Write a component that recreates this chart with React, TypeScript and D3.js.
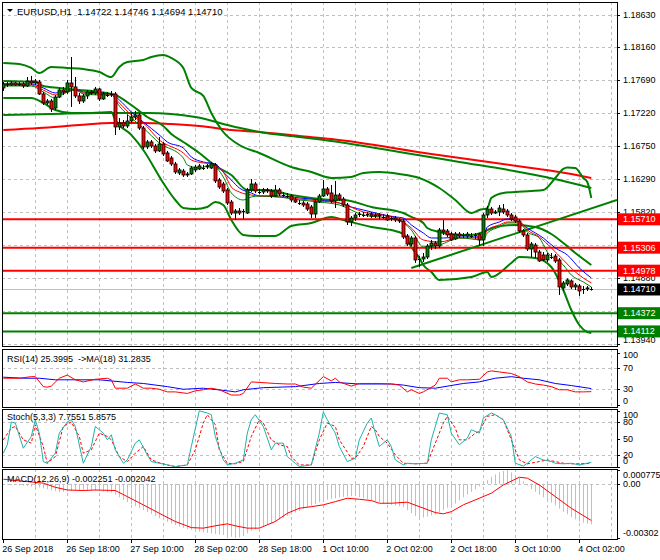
import * as d3 from 'd3'

// ---------- price bars (EURUSD H1, 26 Sep 02:00 .. 4 Oct 05:00) ----------
const barOpen = [
  1.17583, 1.1764, 1.17625, 1.17654, 1.17625, 1.1764, 1.17611, 1.17682, 1.17654, 1.17668,
  1.17497, 1.17369, 1.17397, 1.17297, 1.17454, 1.17554, 1.17526, 1.17654, 1.17597, 1.17469,
  1.17397, 1.17469, 1.17526, 1.17511, 1.17568, 1.17426, 1.17497, 1.17483, 1.17497, 1.17027,
  1.17084, 1.17041, 1.17112, 1.17169, 1.17198, 1.17012, 1.16742, 1.16813, 1.16756, 1.16685,
  1.16784, 1.16656, 1.16585, 1.16499, 1.16371, 1.16399, 1.16342, 1.16357, 1.16414, 1.16428,
  1.16456, 1.16456, 1.16442, 1.16485, 1.16271, 1.16214, 1.16129, 1.15957, 1.158, 1.15829,
  1.15815, 1.158, 1.16129, 1.16214, 1.16114, 1.161, 1.16129, 1.16114, 1.16043, 1.16129,
  1.16071, 1.16057, 1.16043, 1.15986, 1.15957, 1.15943, 1.15929, 1.15886, 1.15786, 1.15957,
  1.16043, 1.16143, 1.16086, 1.15972, 1.16057, 1.16, 1.15914, 1.15672, 1.15729, 1.15772,
  1.15786, 1.15772, 1.15786, 1.15757, 1.15772, 1.15757, 1.15757, 1.15715, 1.15729, 1.15701,
  1.15686, 1.15473, 1.15358, 1.15444, 1.15131, 1.15145, 1.15173, 1.1533, 1.15373, 1.1533,
  1.15558, 1.15544, 1.15501, 1.1543, 1.15501, 1.15473, 1.15473, 1.15487, 1.15473, 1.15501,
  1.15416, 1.15772, 1.15857, 1.158, 1.15815, 1.15857, 1.15829, 1.15772, 1.15743, 1.15686,
  1.15544, 1.15487, 1.15287, 1.15344, 1.15244, 1.15202, 1.15131, 1.15187, 1.15187, 1.15131,
  1.14732, 1.14788, 1.14831, 1.14746, 1.1476, 1.14703, 1.14717, 1.14722,
]
const barHigh = [
  1.17668, 1.17668, 1.17682, 1.17668, 1.17668, 1.17668, 1.17739, 1.17754, 1.17711, 1.17697,
  1.17526, 1.17426, 1.17426, 1.17483, 1.17583, 1.17597, 1.17697, 1.18024, 1.17739, 1.17511,
  1.17497, 1.17554, 1.17554, 1.17597, 1.17583, 1.17526, 1.17526, 1.1754, 1.17526, 1.17155,
  1.17126, 1.17198, 1.17226, 1.17255, 1.17226, 1.17041, 1.16841, 1.16841, 1.16784, 1.16884,
  1.16813, 1.16685, 1.16613, 1.16528, 1.16442, 1.16428, 1.16385, 1.16471, 1.16485, 1.16499,
  1.16485, 1.16499, 1.16528, 1.16513, 1.163, 1.16243, 1.16157, 1.15986, 1.15857, 1.15871,
  1.15857, 1.16157, 1.16285, 1.16243, 1.16143, 1.16157, 1.16157, 1.16143, 1.162, 1.16157,
  1.161, 1.16086, 1.16071, 1.16014, 1.15986, 1.15972, 1.15957, 1.15914, 1.15986, 1.16071,
  1.16271, 1.16171, 1.162, 1.16257, 1.16086, 1.16029, 1.15943, 1.15757, 1.158, 1.15815,
  1.15815, 1.15815, 1.15815, 1.158, 1.158, 1.15786, 1.15786, 1.15757, 1.15757, 1.15729,
  1.15715, 1.15501, 1.15473, 1.15473, 1.15187, 1.1523, 1.15358, 1.15416, 1.15401, 1.15587,
  1.15701, 1.15572, 1.1553, 1.1553, 1.1553, 1.15515, 1.1553, 1.15515, 1.15515, 1.15515,
  1.158, 1.159, 1.15886, 1.15843, 1.15914, 1.15929, 1.15857, 1.158, 1.15772, 1.15715,
  1.15572, 1.15515, 1.15387, 1.15373, 1.15273, 1.15244, 1.1523, 1.1523, 1.15216, 1.15159,
  1.14831, 1.14868, 1.14854, 1.14803, 1.14788, 1.1476, 1.1476, 1.14746,
]
const barLow = [
  1.1754, 1.17597, 1.17611, 1.17611, 1.17611, 1.17583, 1.17597, 1.17625, 1.17625, 1.17483,
  1.1734, 1.1734, 1.1724, 1.17269, 1.1744, 1.17483, 1.17497, 1.17312, 1.1744, 1.17354,
  1.17369, 1.17426, 1.17483, 1.17483, 1.17397, 1.17412, 1.17454, 1.17454, 1.16913, 1.16984,
  1.17012, 1.17012, 1.17084, 1.17126, 1.16984, 1.16713, 1.16713, 1.16727, 1.16656, 1.1667,
  1.16613, 1.16528, 1.16471, 1.16357, 1.16342, 1.16314, 1.16314, 1.16342, 1.16385, 1.16414,
  1.16414, 1.16428, 1.16428, 1.16228, 1.16143, 1.16086, 1.15914, 1.15772, 1.15701, 1.15772,
  1.15715, 1.15786, 1.161, 1.16086, 1.16071, 1.16071, 1.16086, 1.16014, 1.16029, 1.16043,
  1.16029, 1.16014, 1.15957, 1.15943, 1.15914, 1.15886, 1.15829, 1.15729, 1.15729, 1.15943,
  1.16029, 1.16043, 1.15943, 1.15871, 1.15972, 1.15886, 1.15629, 1.15615, 1.15686, 1.15743,
  1.15743, 1.15743, 1.15729, 1.15729, 1.15715, 1.15715, 1.15686, 1.15686, 1.15672, 1.15658,
  1.1543, 1.1533, 1.1533, 1.15088, 1.15031, 1.15102, 1.15145, 1.15273, 1.15287, 1.15301,
  1.15487, 1.15458, 1.15401, 1.15416, 1.15444, 1.15444, 1.15444, 1.15444, 1.1543, 1.1533,
  1.1533, 1.15729, 1.15772, 1.15786, 1.15757, 1.15786, 1.15743, 1.15686, 1.15658, 1.15515,
  1.15458, 1.15259, 1.15173, 1.15159, 1.15102, 1.15116, 1.15102, 1.15145, 1.15088, 1.14632,
  1.14689, 1.1476, 1.14717, 1.14703, 1.14618, 1.14646, 1.14689, 1.14694,
]
const barClose = [
  1.1764, 1.17625, 1.17654, 1.17625, 1.1764, 1.17611, 1.17682, 1.17654, 1.17682, 1.17497,
  1.17369, 1.17397, 1.17283, 1.17454, 1.17554, 1.17526, 1.17654, 1.17597, 1.17469, 1.17397,
  1.17469, 1.17526, 1.17511, 1.17568, 1.17426, 1.17497, 1.17483, 1.17497, 1.17027, 1.17084,
  1.17041, 1.17112, 1.17169, 1.17198, 1.17012, 1.16742, 1.16813, 1.16756, 1.16685, 1.16784,
  1.16642, 1.16542, 1.16499, 1.16385, 1.16414, 1.16342, 1.16357, 1.16442, 1.16456, 1.16471,
  1.16442, 1.16471, 1.16499, 1.16257, 1.16171, 1.16114, 1.15943, 1.158, 1.15829, 1.158,
  1.15829, 1.16129, 1.16214, 1.16114, 1.161, 1.16129, 1.16114, 1.16043, 1.16129, 1.16071,
  1.16057, 1.16043, 1.15986, 1.15957, 1.15943, 1.15914, 1.15857, 1.15786, 1.15957, 1.16043,
  1.16143, 1.16071, 1.15972, 1.16057, 1.16, 1.15914, 1.15672, 1.15729, 1.15772, 1.15786,
  1.15772, 1.15786, 1.15757, 1.15772, 1.15757, 1.15743, 1.15701, 1.15729, 1.15701, 1.15686,
  1.15458, 1.15358, 1.15444, 1.15131, 1.15145, 1.15173, 1.1533, 1.15373, 1.1533, 1.15558,
  1.1553, 1.15487, 1.15416, 1.15501, 1.15473, 1.15487, 1.15501, 1.15473, 1.15487, 1.15416,
  1.15772, 1.15857, 1.158, 1.15815, 1.15871, 1.15815, 1.15772, 1.15715, 1.15686, 1.15544,
  1.15487, 1.15287, 1.15358, 1.15244, 1.15116, 1.15131, 1.15202, 1.15173, 1.15116, 1.14746,
  1.14803, 1.14846, 1.14746, 1.14774, 1.14689, 1.14717, 1.14732, 1.1471,
]

// ---------- main-window overlays: [bar, price] ----------
const bbUpper = [
  [0, 1.17939], [4, 1.17925], [7, 1.17868], [9, 1.17796], [12, 1.17882], [16, 1.17868], [20, 1.17853],
  [24, 1.17811], [27, 1.17739], [29, 1.17882], [31, 1.17953], [35, 1.17982], [37, 1.18024], [40, 1.18053],
  [42, 1.1801], [45, 1.17868], [47, 1.17583], [50, 1.17469], [52, 1.17226], [55, 1.16955], [59, 1.1677],
  [64, 1.16656], [72, 1.16456], [77, 1.16385], [82, 1.163], [87, 1.16314], [90, 1.16371], [94, 1.16385],
  [99, 1.16357], [104, 1.163], [109, 1.16157], [113, 1.15986], [117, 1.158], [119, 1.15843], [121, 1.15871],
  [122, 1.16014], [125, 1.16086], [128, 1.161], [132, 1.16114], [135, 1.16129], [138, 1.163], [140, 1.16428],
  [141, 1.1645], [143, 1.16442], [145, 1.163], [146, 1.16243], [147, 1.16014],
]
const bbMiddle = [
  [0, 1.17682], [8, 1.17668], [10, 1.17611], [14, 1.17583], [19, 1.17554], [24, 1.17526], [28, 1.17483],
  [32, 1.1734], [36, 1.17169], [40, 1.17041], [42, 1.16927], [45, 1.16813], [49, 1.16656], [53, 1.16471],
  [57, 1.16342], [61, 1.16129], [66, 1.16129], [72, 1.16057], [77, 1.16015], [82, 1.15986], [85, 1.15986],
  [92, 1.15886], [100, 1.15801], [102, 1.15744], [105, 1.15658], [106, 1.15587], [109, 1.1553], [114, 1.15487],
  [117, 1.15487], [120, 1.1553], [123, 1.15601], [128, 1.1563], [133, 1.15601], [137, 1.15501], [140, 1.15373],
  [143, 1.15231], [147, 1.15059],
]
const bbLower = [
  [0, 1.1744], [7, 1.1744], [10, 1.17369], [13, 1.17269], [17, 1.17226], [22, 1.17226], [27, 1.1724],
  [28, 1.17126], [32, 1.16913], [35, 1.16699], [40, 1.16228], [43, 1.15986], [45, 1.15872], [48, 1.15858],
  [51, 1.15886], [53, 1.15957], [55, 1.15915], [57, 1.15701], [60, 1.15487], [63, 1.15473], [68, 1.15473],
  [72, 1.15615], [77, 1.15658], [82, 1.15744], [85, 1.15701], [92, 1.15601], [97, 1.15558], [100, 1.15501],
  [102, 1.15316], [104, 1.15159], [105, 1.15059], [107, 1.1496], [109, 1.14846], [117, 1.14888], [121, 1.1496],
  [122, 1.14888], [127, 1.15088], [129, 1.15174], [133, 1.15159], [137, 1.15031], [140, 1.14703], [142, 1.14418],
  [144, 1.14204], [146, 1.14104], [147, 1.1409],
]
const slowGreenMa = [
  [0, 1.17198], [12, 1.17212], [24, 1.17226], [36, 1.17226], [48, 1.17169], [58, 1.17027], [64, 1.16955],
  [74, 1.16884], [82, 1.16827], [99, 1.1667], [114, 1.16528], [129, 1.16385], [139, 1.16271], [147, 1.16157],
]
const slowRedMa = [
  [0, 1.16984], [9, 1.17012], [19, 1.17055], [27, 1.17084], [35, 1.17084], [42, 1.17069], [49, 1.17041],
  [57, 1.16984], [64, 1.16955], [74, 1.16898], [82, 1.16856], [107, 1.16642], [132, 1.16442], [139, 1.16385],
  [147, 1.163],
]
const fastBlueMa = [
  [0, 1.1764], [7, 1.1764], [10, 1.17583], [13, 1.17511], [15, 1.17526], [18, 1.17554], [20, 1.17526],
  [24, 1.17511], [27, 1.17497], [29, 1.17412], [32, 1.1724], [35, 1.17098], [39, 1.16913], [41, 1.16813],
  [45, 1.16727], [47, 1.16599], [50, 1.16528], [53, 1.16499], [55, 1.16385], [57, 1.16271], [59, 1.16157],
  [62, 1.16086], [64, 1.16043], [69, 1.16043], [74, 1.16015], [79, 1.15986], [84, 1.15943], [87, 1.15886],
  [90, 1.15843], [98, 1.15744], [100, 1.15729], [102, 1.1563], [105, 1.15516], [107, 1.15444], [110, 1.15444],
  [115, 1.15459], [120, 1.15459], [121, 1.15601], [124, 1.15672], [126, 1.15715], [129, 1.15672], [131, 1.15587],
  [135, 1.15444], [138, 1.15302], [141, 1.15202], [144, 1.15017], [147, 1.14874],
]
const fastRedMa = [
  [0, 1.17625], [7, 1.17625], [10, 1.17554], [13, 1.17483], [15, 1.17511], [18, 1.17554], [20, 1.17511],
  [24, 1.17497], [27, 1.17483], [29, 1.17369], [32, 1.17198], [35, 1.17084], [39, 1.16841], [45, 1.16656],
  [47, 1.16556], [50, 1.16514], [52, 1.16499], [55, 1.16385], [57, 1.16171], [59, 1.161], [62, 1.16057],
  [64, 1.16043], [69, 1.16029], [74, 1.16], [79, 1.15972], [84, 1.15943], [90, 1.15815], [98, 1.15729],
  [102, 1.15587], [105, 1.15416], [109, 1.15387], [114, 1.15444], [120, 1.15444], [121, 1.15558], [124, 1.1563],
  [126, 1.15672], [129, 1.15672], [131, 1.15558], [134, 1.15459], [137, 1.15302], [140, 1.15131], [143, 1.1496],
  [147, 1.14803],
]
const fastGreenMa = [
  [0, 1.17611], [7, 1.17611], [10, 1.17526], [13, 1.1744], [15, 1.17497], [18, 1.17554], [20, 1.17497],
  [24, 1.17483], [27, 1.17483], [29, 1.17326], [32, 1.17155], [35, 1.17012], [39, 1.16799], [45, 1.16585],
  [46, 1.16485], [49, 1.16442], [52, 1.16485], [55, 1.16314], [57, 1.16086], [60, 1.15986], [62, 1.16029],
  [64, 1.16043], [69, 1.16029], [74, 1.15986], [79, 1.15957], [84, 1.15915], [90, 1.15772], [98, 1.15715],
  [102, 1.15558], [105, 1.15316], [109, 1.15344], [114, 1.15444], [120, 1.15416], [121, 1.15516], [124, 1.15601],
  [126, 1.15658], [129, 1.15658], [131, 1.1553], [134, 1.15444], [136, 1.15245], [140, 1.15059], [142, 1.14917],
  [145, 1.14817], [147, 1.14746],
]
const trendAnchors = [[102, 1.15017], [150, 1.15922]]

const priceTicks = [1.1863, 1.1816, 1.1769, 1.1722, 1.1675, 1.1629, 1.1582, 1.1535, 1.1488, 1.1441, 1.1394]
// tick labels fully covered by a level box in the original are not printed
const hiddenTicks = [1.1535, 1.1441]
const redLevels = [1.1571, 1.15306, 1.14978]
const greenLevels = [1.14372, 1.14112]
const lastPrice = 1.1471

const timeLabels = ['26 Sep 2018', '26 Sep 18:00', '27 Sep 10:00', '28 Sep 02:00', '28 Sep 18:00',
  '1 Oct 10:00', '2 Oct 02:00', '2 Oct 18:00', '3 Oct 10:00', '4 Oct 02:00']
const timeLabelBars = [0, 16, 32, 48, 64, 80, 96, 112, 128, 144]

// ---------- RSI(14) and its MA(18) ----------
const rsiLine = [
  [0, 51], [4, 51], [7, 54], [8, 54], [10, 35], [11, 34], [12, 36], [14, 51], [16, 57], [18, 48], [20, 44],
  [23, 49], [26, 51], [27, 48], [28, 32], [31, 32], [33, 40], [35, 32], [37, 32], [39, 30], [41, 25], [43, 25],
  [46, 22], [48, 27], [50, 29], [52, 32], [54, 29], [57, 19], [59, 19], [60, 22], [62, 44], [64, 43], [68, 41],
  [71, 40], [73, 40], [75, 34], [77, 32], [80, 54], [82, 46], [83, 51], [84, 44], [87, 36], [89, 41], [92, 41],
  [94, 41], [97, 40], [99, 38], [101, 25], [102, 29], [104, 22], [105, 25], [108, 38], [109, 51], [111, 51],
  [112, 44], [114, 48], [116, 48], [119, 49], [121, 63], [122, 65], [124, 63], [127, 60], [129, 54], [131, 44],
  [133, 40], [135, 38], [137, 35], [139, 29], [141, 29], [143, 25], [145, 25], [147, 25.4],
]
const rsiMa = [
  [0, 53], [5, 51], [9, 51], [13, 48], [24, 48], [31, 43], [35, 41], [41, 35], [45, 30], [50, 32], [56, 27],
  [58, 25], [60, 29], [65, 33], [73, 35], [79, 41], [83, 43], [89, 40], [97, 40], [100, 38], [104, 33],
  [108, 32], [115, 41], [119, 44], [123, 51], [127, 54], [130, 51], [134, 48], [138, 41], [142, 37], [147, 31.3],
]

// ---------- Stochastic(5,3,3) ----------
const stochMain = [
  [0, 24], [1, 39], [2, 80], [3, 78], [5, 33], [7, 54], [8, 84], [9, 60], [10, 9], [11, 6], [13, 24], [14, 60],
  [16, 80], [17, 84], [18, 72], [20, 6], [22, 36], [23, 72], [25, 60], [26, 48], [27, 57], [28, 30], [30, 6],
  [31, 12], [33, 42], [34, 48], [36, 21], [37, 9], [39, 6], [41, 3], [43, 0], [46, 3], [47, 36], [49, 100],
  [51, 96], [52, 93], [53, 54], [55, 12], [56, 3], [58, 6], [60, 12], [61, 60], [62, 84], [63, 93], [65, 72],
  [67, 30], [68, 42], [70, 42], [71, 18], [73, 6], [74, 0], [77, 3], [79, 60], [80, 98], [81, 84], [83, 60],
  [84, 36], [86, 9], [88, 15], [89, 48], [91, 78], [92, 87], [93, 60], [94, 36], [96, 48], [97, 36], [98, 12],
  [100, 3], [101, 6], [103, 5], [106, 6], [107, 48], [109, 96], [111, 93], [112, 60], [114, 39], [116, 51],
  [117, 66], [119, 60], [120, 87], [122, 96], [123, 93], [125, 84], [127, 54], [128, 6], [130, 1], [131, 6],
  [133, 18], [135, 12], [137, 9], [138, 6], [140, 5], [142, 6], [144, 3], [146, 6], [147, 7.8],
]
const stochSignal = [
  [0, 48], [2, 69], [3, 72], [5, 48], [7, 42], [8, 75], [10, 36], [11, 6], [13, 18], [15, 72], [17, 80],
  [19, 54], [20, 24], [22, 30], [24, 60], [26, 54], [27, 48], [29, 18], [31, 9], [33, 24], [35, 36], [37, 12],
  [39, 7], [41, 3], [43, 0], [46, 3], [48, 30], [50, 78], [51, 93], [53, 75], [54, 30], [56, 6], [58, 5],
  [60, 9], [62, 54], [64, 84], [65, 78], [67, 48], [69, 39], [71, 36], [72, 18], [74, 3], [77, 3], [79, 48],
  [81, 78], [83, 72], [84, 48], [87, 15], [88, 15], [90, 36], [92, 72], [93, 66], [94, 54], [96, 42], [98, 21],
  [100, 6], [103, 5], [106, 6], [108, 42], [110, 78], [111, 90], [113, 69], [114, 48], [116, 48], [118, 60],
  [119, 63], [121, 90], [123, 93], [125, 84], [127, 48], [129, 12], [131, 5], [134, 9], [136, 12], [138, 9],
  [140, 6], [142, 5], [144, 5], [147, 5.9],
]

// ---------- MACD(12,26,9) ----------
const macdHist = [
  -0.00003, -0.00004, -0.00005, -0.00006, -0.00008, -0.0001, -0.00012, -0.00015, -0.00017, -0.00021,
  -0.00025, -0.0003, -0.00036, -0.00041, -0.00045, -0.00044, -0.00042, -0.0004, -0.00038, -0.00036,
  -0.00035, -0.00036, -0.00037, -0.00039, -0.0004, -0.00042, -0.00045, -0.00049, -0.0006, -0.00075,
  -0.0009, -0.00102, -0.00114, -0.00125, -0.00135, -0.00147, -0.00158, -0.00168, -0.0018, -0.00192,
  -0.00203, -0.00212, -0.00221, -0.00229, -0.00238, -0.00246, -0.00251, -0.00257, -0.00262, -0.00267,
  -0.00271, -0.00274, -0.00277, -0.0028, -0.00282, -0.00285, -0.00289, -0.00295, -0.00302, -0.00299,
  -0.00292, -0.00276, -0.00262, -0.00254, -0.00246, -0.00238, -0.00229, -0.00219, -0.0021, -0.00199,
  -0.00188, -0.00179, -0.0017, -0.0016, -0.0015, -0.0014, -0.00131, -0.00122, -0.00112, -0.00102,
  -0.00092, -0.00088, -0.00084, -0.0008, -0.00076, -0.00072, -0.0007, -0.00069, -0.00068, -0.00074,
  -0.0008, -0.00085, -0.0009, -0.00095, -0.00103, -0.0011, -0.00113, -0.00117, -0.0012, -0.00125,
  -0.0013, -0.00147, -0.00163, -0.0018, -0.00185, -0.00188, -0.00182, -0.00176, -0.0017, -0.00158,
  -0.00145, -0.00133, -0.00122, -0.0011, -0.00092, -0.00075, -0.0006, -0.00045, -0.0003, -0.00014,
  0.00002, 0.00021, 0.0004, 0.00053, 0.00065, 0.00072, 0.000775, 0.00064, 0.0005, 0.00033,
  0.00015, -0.00008, -0.0003, -0.00045, -0.0006, -0.00075, -0.0009, -0.00105, -0.0012, -0.00138,
  -0.00155, -0.0017, -0.00185, -0.00198, -0.0021, -0.00216, -0.00222, -0.002251,
]
const macdSignal = [
  [0, 0.00026], [4, 0.00017], [10, 0.00004], [13, -0.00019], [16, -0.00034], [20, -0.00037], [23, -0.00034],
  [28, -0.00037], [31, -0.00071], [35, -0.00117], [39, -0.00164], [43, -0.0021], [47, -0.00244], [50, -0.00247],
  [53, -0.00234], [56, -0.00223], [58, -0.00234], [61, -0.00247], [64, -0.00247], [68, -0.0021], [71, -0.00164],
  [74, -0.00136], [77, -0.00127], [80, -0.00117], [83, -0.00099], [86, -0.0008], [89, -0.00086], [92, -0.00093],
  [94, -0.00108], [97, -0.00108], [101, -0.00102], [104, -0.00127], [108, -0.0016], [110, -0.00167],
  [112, -0.00155], [115, -0.00117], [119, -0.0008], [122, -0.00052], [125, -0.00006], [129, 0.00037],
  [131, 0.00032], [134, -0.00006], [138, -0.00071], [142, -0.00136], [147, -0.002042],
]

// ---------- layout ----------
const L = 2
const R = 617
const MAIN = { top: 2, bottom: 346 }
const RSI = { top: 349, bottom: 407 }
const STO = { top: 409, bottom: 467 }
const MACD = { top: 469, bottom: 539 }
const FONT = '"Liberation Sans", Arial, sans-serif'
const FS = 9
const GRID = '#c0c0c0'

type Pt = number[]

export default function App() {
  const x = d3.scaleLinear().domain([0, 152]).range([3.3, 611.3])
  const yP = d3.scaleLinear().domain([1.1863, 1.1394]).range([14.5, 343.5])
  const yR = d3.scaleLinear().domain([0, 100]).range([405, 352.5])
  const yS = d3.scaleLinear().domain([0, 100]).range([466.6, 410.8])
  const yM = d3.scaleLinear().domain([-0.00302, 0.000775]).range([538, 470])

  const mk = (ys: d3.ScaleLinear<number, number>, curve = d3.curveLinear) =>
    d3.line<Pt>().x(d => x(d[0])).y(d => ys(d[1])).curve(curve)
  const smoothP = mk(yP, d3.curveMonotoneX)
  const lineR = mk(yR)
  const lineS = mk(yS)
  const lineM = mk(yM)

  const gridBars = d3.range(8, 153, 8)
  const fmt = d3.format('.5f')

  const vGrid = (p: { top: number; bottom: number }) =>
    gridBars.map(b => (
      <line key={'v' + b} x1={Math.round(x(b)) + 0.5} x2={Math.round(x(b)) + 0.5} y1={p.top} y2={p.bottom}
        stroke={GRID} strokeDasharray="3,3" />
    ))
  const hGrid = (ys: number[], k: string) =>
    ys.map((y, i) => (
      <line key={k + i} x1={L} x2={R} y1={Math.round(y) + 0.5} y2={Math.round(y) + 0.5}
        stroke={GRID} strokeDasharray="3,3" />
    ))
  const axisLabel = (y: number, text: string | null, p: { top: number; bottom: number }, k: string) => {
    const yy = Math.max(p.top + 6, Math.min(p.bottom - 6, y))
    return (
      <g key={k}>
        <line x1={R} x2={R + 3} y1={Math.round(y) + 0.5} y2={Math.round(y) + 0.5} stroke="#000" />
        {text && <text x={623} y={yy} dominantBaseline="central" fontSize={FS}>{text}</text>}
      </g>
    )
  }

  // trendline extended to the right edge of the chart
  const [a0, a1] = trendAnchors
  const slope = (a1[1] - a0[1]) / (a1[0] - a0[0])
  const endBar = x.invert(R)
  const trendEnd = a0[1] + slope * (endBar - a0[0])

  const box = (p: number, fill: string, k: string) => (
    <g key={k}>
      <rect x={618} y={yP(p) - 6} width={42} height={12} fill={fill} />
      <text x={623} y={yP(p)} dominantBaseline="central" fontSize={FS} fill="#fff">{fmt(p)}</text>
    </g>
  )

  return (
    <svg width={660} height={560} style={{ display: 'block', position: 'absolute', left: 0, top: 0, background: '#fff' }}
      fontFamily={FONT}>
      <defs>
        <clipPath id="mainClip"><rect x={L} y={MAIN.top} width={R - L} height={MAIN.bottom - MAIN.top} /></clipPath>
        <clipPath id="macdClip"><rect x={L} y={MACD.top} width={R - L} height={MACD.bottom - MACD.top} /></clipPath>
      </defs>
      <rect width={660} height={560} fill="#fff" />

      {/* grids */}
      {vGrid(MAIN)}
      {hGrid(priceTicks.map(p => yP(p)), 'pg')}
      {vGrid(RSI)}
      {hGrid([yR(70), yR(30)], 'rg')}
      {vGrid(STO)}
      {hGrid([yS(80), yS(20)], 'sg')}
      {vGrid(MACD)}
      {hGrid([yM(0)], 'mg')}

      {/* main window */}
      <g clipPath="url(#mainClip)">
        <line x1={L} x2={R} y1={Math.round(yP(lastPrice)) + 0.5} y2={Math.round(yP(lastPrice)) + 0.5} stroke="#c0c0c0" />
        <path d={smoothP(slowRedMa as Pt[]) ?? ''} fill="none" stroke="#ff0000" strokeWidth={2} />
        <path d={smoothP(slowGreenMa as Pt[]) ?? ''} fill="none" stroke="#008000" strokeWidth={2} />
        <path d={smoothP(bbUpper as Pt[]) ?? ''} fill="none" stroke="#008000" strokeWidth={2} />
        <path d={smoothP(bbMiddle as Pt[]) ?? ''} fill="none" stroke="#008000" strokeWidth={2} />
        <path d={smoothP(bbLower as Pt[]) ?? ''} fill="none" stroke="#008000" strokeWidth={2} />
        {redLevels.map((p, i) => (
          <line key={'rl' + i} x1={L} x2={R} y1={yP(p)} y2={yP(p)} stroke="#ff0000" strokeWidth={2} />
        ))}
        {greenLevels.map((p, i) => (
          <line key={'gl' + i} x1={L} x2={R} y1={yP(p)} y2={yP(p)} stroke="#008000" strokeWidth={2} />
        ))}
        <line x1={x(a0[0])} y1={yP(a0[1])} x2={R} y2={yP(trendEnd)} stroke="#008000" strokeWidth={2} />
        <path d={smoothP(fastBlueMa as Pt[]) ?? ''} fill="none" stroke="#0000ff" strokeWidth={1} />
        <path d={smoothP(fastRedMa as Pt[]) ?? ''} fill="none" stroke="#ff0000" strokeWidth={1} />
        <path d={smoothP(fastGreenMa as Pt[]) ?? ''} fill="none" stroke="#008000" strokeWidth={1} />
        {barClose.map((c, i) => {
          const o = barOpen[i]
          const cx = Math.round(x(i))
          const yo = yP(o)
          const yc = yP(c)
          const top = Math.min(yo, yc)
          const h = Math.abs(yc - yo)
          return (
            <g key={'c' + i}>
              <line x1={cx + 0.5} x2={cx + 0.5} y1={yP(barHigh[i])} y2={yP(barLow[i])} stroke="#000" />
              {h < 1 ? (
                <line x1={cx - 1} x2={cx + 2} y1={Math.round(yc) + 0.5} y2={Math.round(yc) + 0.5} stroke="#000" />
              ) : (
                <rect x={cx - 1} y={top} width={3} height={h} fill={c > o ? '#008000' : '#ff0000'}
                  stroke="#000" strokeWidth={0.8} />
              )}
            </g>
          )
        })}
      </g>

      {/* RSI */}
      <path d={lineR(rsiMa as Pt[]) ?? ''} fill="none" stroke="#0000ff" strokeWidth={1} />
      <path d={lineR(rsiLine as Pt[]) ?? ''} fill="none" stroke="#ff0000" strokeWidth={1} />

      {/* Stochastic */}
      <path d={lineS(stochSignal as Pt[]) ?? ''} fill="none" stroke="#ff0000" strokeWidth={1} strokeDasharray="3,2" />
      <path d={lineS(stochMain as Pt[]) ?? ''} fill="none" stroke="#20b2aa" strokeWidth={1} />

      {/* MACD */}
      <g clipPath="url(#macdClip)">
        {macdHist.map((v, i) => (
          <line key={'h' + i} x1={Math.round(x(i)) + 0.5} x2={Math.round(x(i)) + 0.5} y1={yM(0)} y2={yM(v)}
            stroke="#c0c0c0" />
        ))}
        <path d={lineM(macdSignal as Pt[]) ?? ''} fill="none" stroke="#ff0000" strokeWidth={1} />
      </g>

      {/* panel frames */}
      {[MAIN, RSI, STO, MACD].map((p, i) => (
        <rect key={'f' + i} x={L + 0.5} y={p.top + 0.5} width={R - L} height={p.bottom - p.top}
          fill="none" stroke="#000" />
      ))}

      {/* price axis */}
      {priceTicks.map((p, i) => axisLabel(yP(p), hiddenTicks.includes(p) ? null : fmt(p), MAIN, 'pt' + i))}
      {redLevels.map((p, i) => box(p, '#ff0000', 'rb' + i))}
      {box(lastPrice, '#000', 'lb')}
      {greenLevels.map((p, i) => box(p, '#008000', 'gb' + i))}

      {/* sub-window axes */}
      {[100, 70, 30, 0].map(v => axisLabel(yR(v), String(v), RSI, 'ra' + v))}
      {[100, 80, 50, 20, 0].map(v => axisLabel(yS(v), String(v), STO, 'sa' + v))}
      {axisLabel(yM(0.000775), '0.000775', MACD, 'ma1')}
      {axisLabel(yM(0), '0.00', MACD, 'ma2')}
      {axisLabel(yM(-0.00302), '-0.00302', MACD, 'ma3')}

      {/* time axis */}
      {timeLabelBars.map((b, i) => (
        <g key={'t' + i}>
          <line x1={Math.round(x(b)) + 0.5} x2={Math.round(x(b)) + 0.5} y1={MACD.bottom} y2={MACD.bottom + 4} stroke="#000" />
          <text x={x(b) - 1} y={549} dominantBaseline="central" fontSize={FS}>{timeLabels[i]}</text>
        </g>
      ))}

      {/* window captions */}
      <path d="M7,9 L13,9 L10,12 Z" fill="#000" />
      <text x={17} y={11} dominantBaseline="central" fontSize={FS + 0.5} style={{ whiteSpace: 'pre' }}>
        {'EURUSD,H1  1.14722 1.14746 1.14694 1.14710'}
      </text>
      <text x={7} y={359} dominantBaseline="central" fontSize={FS} style={{ whiteSpace: 'pre' }}>
        {'RSI(14) 25.3995  ->MA(18) 31.2835'}
      </text>
      <text x={7} y={417} dominantBaseline="central" fontSize={FS} style={{ whiteSpace: 'pre' }}>
        {'Stoch(5,3,3) 7.7551 5.8575'}
      </text>
      <text x={7} y={479} dominantBaseline="central" fontSize={FS} style={{ whiteSpace: 'pre' }}>
        {'MACD(12,26,9) -0.002251 -0.002042'}
      </text>
    </svg>
  )
}
